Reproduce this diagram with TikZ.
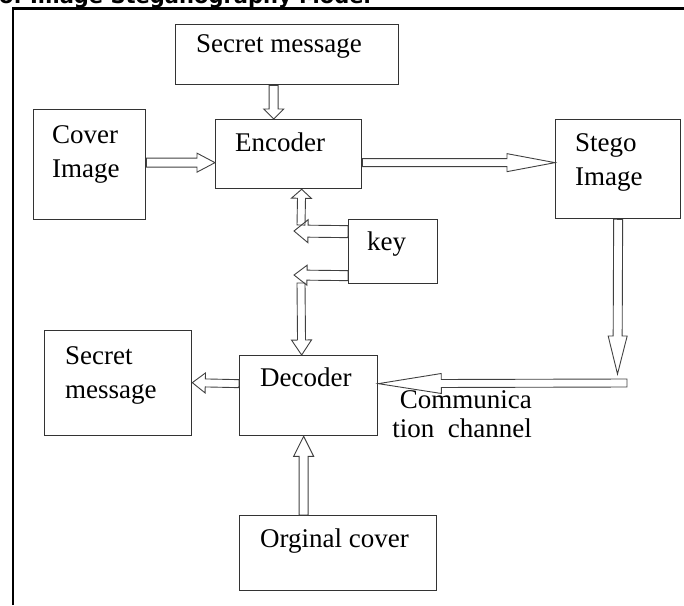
\documentclass[tikz,border=0pt]{standalone}
\usepackage{fontspec}
\setmainfont{Liberation Serif}
\newfontfamily\headfont{DejaVu Sans}
\usepackage{tikz}
\usetikzlibrary{calc}
\tikzset{box/.style={draw=black!80, line width=1.3pt, inner sep=0pt, anchor=north west},
	txt/.style={inner sep=0pt, anchor=base west, align=left, font=\fontsize{27}{33.5}\selectfont},
	fat/.style args={#1/#2/#3}{draw=black!75, line width=0.9pt, line join=miter,
		to path={let \p1=(\tikztostart), \p2=(\tikztotarget), \n1={atan2(\y2-\y1,\x2-\x1)} in
			($(\p1)+(\n1+90:#1pt)$) -- ($(\p2)+(\n1+180:#3pt)+(\n1+90:#1pt)$)
			-- ($(\p2)+(\n1+180:#3pt)+(\n1+90:#2pt)$) -- (\p2)
			-- ($(\p2)+(\n1+180:#3pt)+(\n1-90:#2pt)$) -- ($(\p2)+(\n1+180:#3pt)+(\n1-90:#1pt)$)
			-- ($(\p1)+(\n1-90:#1pt)$) -- cycle}}}

\begin{document}
\begin{tikzpicture}[x=1pt, y=-1pt]
		\useasboundingbox (0,0) rectangle (684,605);
		\node[font=\headfont\bfseries\fontsize{21}{25}\selectfont, inner sep=0pt, anchor=base west] (title) at (-1,3) {of Image Steganography Model};
		\draw[line width=2.2pt] (13,605) -- (13,8.5) -- (684,8.5);
		% boxes
		\node[box, minimum width=223pt, minimum height=60pt] (secr) at (175,24) {};
		\node[box, minimum width=112pt, minimum height=110pt] (cov) at (33,109) {};
		\node[box, minimum width=146pt, minimum height=69pt] (enc) at (215,119) {};
		\node[box, minimum width=125pt, minimum height=99pt] (stego) at (555,119) {};
		\node[box, minimum width=89pt, minimum height=64pt] (key) at (348,219) {};
		\node[box, minimum width=147pt, minimum height=105pt] (smsg) at (44,330) {};
		\node[box, minimum width=138pt, minimum height=80pt] (dec) at (239,355) {};
		\node[box, minimum width=197pt, minimum height=75pt] (orig) at (239,515) {};
		\node[txt] (secr-t) at (196,52) {Secret message};
		\node[txt] (cov-t) at (52,177) {Cover\\Image};
		\node[txt] (enc-t) at (235,151) {Encoder};
		\node[txt] (stego-t) at (575,185) {Stego\\Image};
		\node[txt] (key-t) at (367,250) {key};
		\node[txt] (smsg-t) at (65,398) {Secret\\message};
		\node[txt] (dec-t) at (260,386) {Decoder};
		\node[txt] (orig-t) at (260,547) {Orginal cover};
		\node[txt, anchor=base east, align=right, font=\fontsize{27}{29}\selectfont] (comm-t) at (532,437) {Communica\\tion~~channel};
		\coordinate (ch-tip) at (617.5,374);
		\coordinate (ch-end) at (627,383);
		\coordinate (kl1) at (294,231);
		\coordinate (kl2) at (294,275);
		\coordinate (ku) at (301,225);
		\coordinate (kd) at (301,283);
		% arrows
		\draw[fat=4.5/10/10] ([xshift=-13.5pt]secr.south) to ([xshift=-15pt]enc.north);
		\draw[fat=4.5/9.5/18] ([yshift=2pt]cov.east) to ([yshift=-8.5pt]enc.west);
		\draw[fat=4/9/48] ([yshift=-8.5pt]enc.east) to ([yshift=6.5pt]stego.west);
		\draw[fat=4.5/9.5/38] (stego.south) to (ch-tip);
		\draw[fat=4/10/63] (ch-end) to ([yshift=12pt]dec.east);
		\draw[fat=4/10/13] ([yshift=12pt]dec.west) to ([yshift=0.5pt]smsg.east);
		\draw[fat=4.5/10/20] ([xshift=-34.5pt]orig.north) to ([xshift=-5pt]dec.south);
		\draw[fat=6/11.5/14] ([yshift=20pt]key.west) to (kl1);
		\draw[fat=4/10/9] (ku) to ([xshift=13pt]enc.south);
		\draw[fat=5/10/13] ([yshift=-24pt]key.west) to (kl2);
		\draw[fat=4/10/15] (kd) to ([xshift=-7pt]dec.north);
\end{tikzpicture}
\end{document}
